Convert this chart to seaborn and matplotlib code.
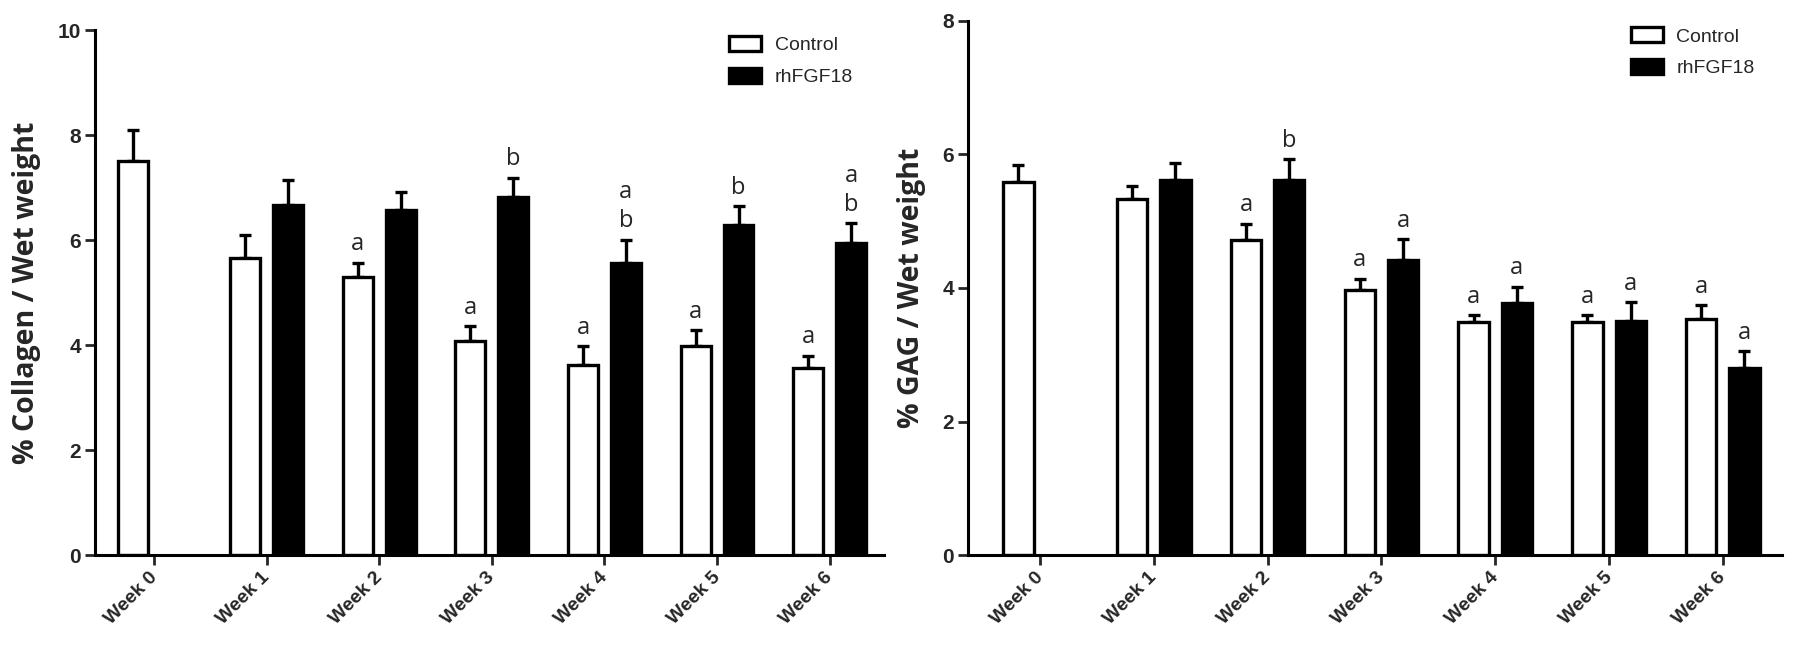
import numpy as np
import matplotlib
matplotlib.use("Agg")
import matplotlib.pyplot as plt
from matplotlib.patches import Patch
from matplotlib.transforms import ScaledTranslation
import pandas as pd
import seaborn as sns

weeks = ["Week 0", "Week 1", "Week 2", "Week 3", "Week 4", "Week 5", "Week 6"]
groups = ["Control", "rhFGF18"]

# collagen panel (Week 0 has no rhFGF18 bar)
col_ctrl = [7.50, 5.65, 5.30, 4.08, 3.62, 3.99, 3.56]
col_ctrl_err = [0.60, 0.44, 0.27, 0.28, 0.36, 0.30, 0.24]
col_rh = [np.nan, 6.66, 6.57, 6.82, 5.57, 6.28, 5.94]
col_rh_err = [np.nan, 0.49, 0.35, 0.37, 0.44, 0.36, 0.38]
col_ctrl_lab = ["", "", "a", "a", "a", "a", "a"]
col_rh_lab = ["", "", "", "b", "a\nb", "b", "a\nb"]

# GAG panel
gag_ctrl = [5.59, 5.34, 4.72, 3.97, 3.49, 3.49, 3.53]
gag_ctrl_err = [0.25, 0.19, 0.24, 0.17, 0.10, 0.10, 0.21]
gag_rh = [np.nan, 5.62, 5.61, 4.42, 3.78, 3.50, 2.80]
gag_rh_err = [np.nan, 0.25, 0.32, 0.31, 0.24, 0.29, 0.25]
gag_ctrl_lab = ["", "", "a", "a", "a", "a", "a"]
gag_rh_lab = ["", "", "b", "a", "a", "a", "a"]

sns.set_style("ticks")
plt.rcParams['font.family'] = ['Liberation Sans', 'DejaVu Sans']

WIDTH = 0.76
colors = {"Control": "white", "rhFGF18": "black"}
label_font = ["Open Sans", "DejaVu Sans"]


def panel(ax, ctrl, ctrl_err, rh, rh_err, ctrl_lab, rh_lab, ylabel, ymax, xlim):
    df = pd.DataFrame({
        "week": weeks * 2,
        "group": ["Control"] * len(weeks) + ["rhFGF18"] * len(weeks),
        "value": list(ctrl) + list(rh),
    })
    sns.barplot(data=df.dropna(), x="week", y="value", hue="group", order=weeks,
                hue_order=groups, palette=colors, edgecolor="black", linewidth=2.4,
                width=WIDTH, gap=0.3, errorbar=None, legend=False, ax=ax, zorder=2)
    off = WIDTH / 4
    for sign, vals, errs, labs in [(-1, ctrl, ctrl_err, ctrl_lab), (1, rh, rh_err, rh_lab)]:
        for i, (v, e, lab) in enumerate(zip(vals, errs, labs)):
            if np.isnan(v):
                continue
            x = i + sign * off
            ax.errorbar(x, v, yerr=[[0], [e]], color="black", elinewidth=2.4,
                        capsize=4.5, capthick=2.4, zorder=1)
            if lab:
                ax.text(x, v + e + ymax * 0.012, lab, ha="center", va="bottom",
                        fontsize=17, linespacing=1.3, family=label_font)
    ax.set_ylim(0, ymax)
    ax.set_xlim(*xlim)
    ax.set_yticks(np.arange(0, ymax + 0.1, 2))
    ax.set_xlabel("")
    ax.set_ylabel(ylabel, fontsize=20.5, fontweight="bold", family=label_font, labelpad=12)
    ax.tick_params(axis="x", length=7, width=2, rotation=45, labelsize=14, pad=3)
    ax.tick_params(axis="y", length=7, width=2, labelsize=15)
    shift = ScaledTranslation(-4 / 72, 0, ax.figure.dpi_scale_trans)
    for t in ax.get_xticklabels():
        t.set_ha("right")
        t.set_rotation_mode("anchor")
        t.set_fontweight("bold")
        t.set_transform(t.get_transform() + shift)
    for t in ax.get_yticklabels():
        t.set_fontweight("bold")
    for s in ["left", "bottom"]:
        ax.spines[s].set_linewidth(2.2)
        ax.spines[s].set_color("black")
    sns.despine(ax=ax)


fig = plt.figure(figsize=(18, 6.53), dpi=100)
ax1 = fig.add_axes([0.053, 0.150, 0.438, 0.804])
ax2 = fig.add_axes([0.538, 0.150, 0.452, 0.818])

panel(ax1, col_ctrl, col_ctrl_err, col_rh, col_rh_err, col_ctrl_lab, col_rh_lab,
      "% Collagen / Wet weight", 10, (-0.52, 6.48))
panel(ax2, gag_ctrl, gag_ctrl_err, gag_rh, gag_rh_err, gag_ctrl_lab, gag_rh_lab,
      "% GAG / Wet weight", 8, (-0.63, 6.52))

handles = [Patch(facecolor="white", edgecolor="black", linewidth=2.4, label="Control"),
           Patch(facecolor="black", edgecolor="black", linewidth=2.4, label="rhFGF18")]
for anchor in [(0.405, 0.945), (0.906, 0.958)]:
    fig.legend(handles=handles, loc="upper left", bbox_to_anchor=anchor,
               bbox_transform=fig.transFigure, frameon=False, fontsize=14,
               handlelength=1.65, handleheight=0.8, borderpad=0, borderaxespad=0,
               labelspacing=0.7, handletextpad=0.7)

fig.savefig("out.png", dpi=100, facecolor="white")
